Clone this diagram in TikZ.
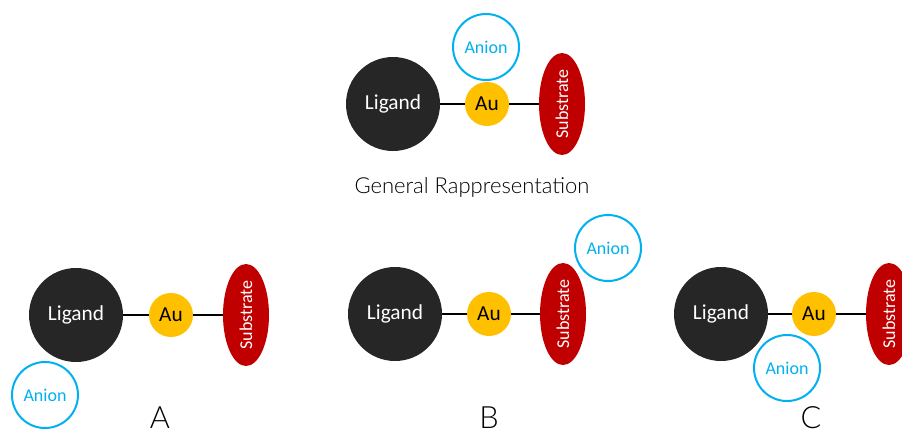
\documentclass[tikz,border=0pt]{standalone}
\usepackage{fontspec}
\setmainfont{Carlito}
\newfontfamily\thinfont{Lato Light}
\usepackage{xcolor}
\usepackage{tikz}
\usetikzlibrary{shapes.geometric}

\definecolor{ligandgray}{HTML}{262626}
\definecolor{gold}{HTML}{FFC000}
\definecolor{substred}{HTML}{C00000}
\definecolor{anionblue}{HTML}{00B0F0}

\tikzset{
  ligand/.style={circle, fill=ligandgray, text=white, inner sep=0pt,
    minimum size=70.5pt, font=\fontsize{16}{18}\selectfont},
  metal/.style={circle, fill=gold, text=black, inner sep=0pt,
    minimum size=33pt, font=\fontsize{16}{18}\selectfont},
  substrate/.style={ellipse, fill=substred, text=white, inner sep=0pt,
    minimum width=76.5pt, minimum height=34.5pt, rotate=90,
    font=\fontsize{13.5}{15}\selectfont},
  anion/.style={circle, draw=anionblue, line width=1.5pt, fill=white,
    text=anionblue, inner sep=0pt, minimum size=49.5pt,
    font=\fontsize{13.5}{15}\selectfont},
  bond/.style={black, line width=1.5pt},
  caption/.style={font=\thinfont\fontsize{16.5}{20}\selectfont},
  case/.style={anchor=base, inner sep=0pt, text depth=0pt,
    font=\thinfont\fontsize{23}{26}\selectfont}
}

\begin{document}
\begin{tikzpicture}[x=0.75pt, y=-0.75pt]
\useasboundingbox (0,0) rectangle (902,433);

% general representation
\node [ligand] (lig) at (393,104) {Ligand};
\node [metal] (au) at (487,104) {Au};
\node [substrate] (sub) at (562,104) {Substrate};
\node [anion] (an) at (486,47) {Anion};
\draw [bond] (lig) -- (au);
\draw [bond] (au) -- (sub);
\node [caption] (gen) at (472,187) {General Rappresentation};

% case A: anion near the ligand
\node [ligand] (ligA) at (76,315) {Ligand};
\node [metal] (auA) at (171,315) {Au};
\node [substrate] (subA) at (246,315) {Substrate};
\node [anion] (anA) at (45,395) {Anion};
\draw [bond] (ligA) -- (auA);
\draw [bond] (auA) -- (subA);
\node [case] (labA) at (160,428) {A};

% case B: anion near the substrate
\node [ligand] (ligB) at (395,314) {Ligand};
\node [metal] (auB) at (489,314) {Au};
\node [substrate] (subB) at (563,314) {Substrate};
\node [anion] (anB) at (608,248) {Anion};
\draw [bond] (ligB) -- (auB);
\draw [bond] (auB) -- (subB);
\node [case] (labB) at (489,428) {B};

% case C: anion below the metal
\node [ligand] (ligC) at (721,314) {Ligand};
\node [metal] (auC) at (814,314) {Au};
\node [substrate] (subC) at (889,314) {Substrate};
\node [anion] (anC) at (787,368) {Anion};
\draw [bond] (ligC) -- (auC);
\draw [bond] (auC) -- (subC);
\node [case] (labC) at (811,428) {C};
\end{tikzpicture}
\end{document}
